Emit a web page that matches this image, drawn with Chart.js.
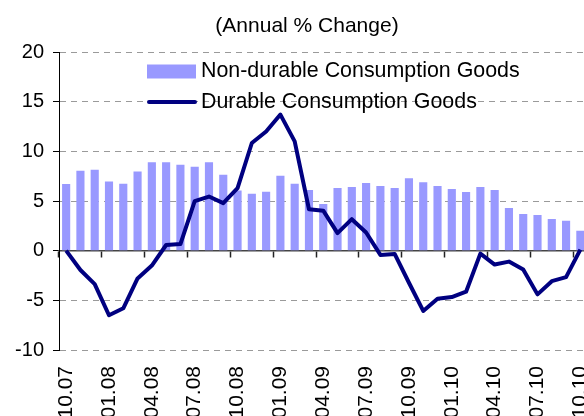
<!DOCTYPE html>
<html>
<head>
<meta charset="utf-8">
<script src="https://cdn.jsdelivr.net/npm/chart.js@4.4.0/dist/chart.umd.min.js"></script>
<style>
	html, body { margin: 0; padding: 0; background: #fff; overflow: hidden; }
	#wrap { width: 614px; height: 416px; }
</style>
</head>
<body>
<div id="wrap"><canvas id="chart" width="614" height="416"></canvas></div>
<script>
// monthly, 10.07 .. 10.10
const months = [
	"10.07", "11.07", "12.07", "01.08", "02.08", "03.08", "04.08", "05.08", "06.08",
	"07.08", "08.08", "09.08", "10.08", "11.08", "12.08", "01.09", "02.09", "03.09",
	"04.09", "05.09", "06.09", "07.09", "08.09", "09.09", "10.09", "11.09", "12.09",
	"01.10", "02.10", "03.10", "04.10", "05.10", "06.10", "07.10", "08.10", "09.10",
	"10.10",
];
const nonDurable = [
	6.7, 8.05, 8.15, 6.97, 6.73, 7.98, 8.89, 8.89, 8.65, 8.45, 8.89, 7.64, 6.06,
	5.72, 5.93, 7.54, 6.73, 6.1, 4.7, 6.3, 6.4, 6.8, 6.5, 6.3, 7.3, 6.9, 6.5, 6.2,
	5.9, 6.4, 6.1, 4.3, 3.7, 3.6, 3.2, 3.0, 2.0,
];
const durable = [
	0, -1.95, -3.37, -6.5, -5.8, -2.8, -1.5, 0.57, 0.67, 4.98, 5.45, 4.78, 6.3,
	10.84, 12.0, 13.7, 11.0, 4.17, 4.03, 1.77, 3.17, 1.83, -0.43, -0.33, -3.23,
	-6.07, -4.83, -4.67, -4.13, -0.3, -1.4, -1.1, -1.9, -4.4, -3.07, -2.67, 0.1,
];
const seriesNames = ["Non-durable Consumption Goods", "Durable Consumption Goods"];
const yMin = -10;
const yMax = 20;
const yStep = 5;
const labelEvery = 3;

Chart.defaults.font.family = "'Liberation Sans', Arial, sans-serif";
Chart.defaults.color = "#000";

// legend drawn inside the plot, top left
const insideLegend = {
	id: "insideLegend",
	afterDatasetsDraw(chart) {
		const { ctx, chartArea } = chart;
		const x = chartArea.left + 88;
		let y = chartArea.top + 19.5;
		ctx.save();
		ctx.font = "21.4px 'Liberation Sans', Arial, sans-serif";
		ctx.textBaseline = "middle";
		chart.data.datasets.forEach((ds) => {
			if (ds.type === "bar") {
				ctx.fillStyle = ds.backgroundColor;
				ctx.fillRect(x, y - 7, 49, 14);
			} else {
				ctx.strokeStyle = ds.borderColor;
				ctx.lineWidth = 4;
				ctx.lineCap = "round";
				ctx.beginPath();
				ctx.moveTo(x + 2, y);
				ctx.lineTo(x + 48, y);
				ctx.stroke();
			}
			ctx.fillStyle = "#000";
			ctx.fillText(ds.label, x + 54, y);
			y += 30.5;
		});
		ctx.restore();
	},
};

new Chart(document.getElementById("chart"), {
	data: {
		labels: months,
		datasets: [
			{
				type: "bar",
				label: seriesNames[0],
				data: nonDurable,
				backgroundColor: "#9999FF",
				borderWidth: 0,
				barPercentage: 0.57,
				categoryPercentage: 1,
				order: 2,
			},
			{
				type: "line",
				label: seriesNames[1],
				data: durable,
				borderColor: "#000080",
				borderWidth: 4,
				borderJoinStyle: "round",
				pointRadius: 0,
				tension: 0,
				fill: false,
				order: 1,
			},
		],
	},
	options: {
		responsive: false,
		animation: false,
		devicePixelRatio: 1,
		layout: { padding: 0 },
		plugins: {
			legend: { display: false },
			tooltip: { enabled: false },
			title: {
				display: true,
				text: "(Annual % Change)",
				color: "#000",
				font: { size: 21, weight: "normal" },
				padding: { top: 13.4, bottom: 13.4 },
			},
		},
		scales: {
			x: {
				offset: true,
				grid: { display: false, drawTicks: false, offset: true },
				border: { display: false },
				ticks: {
					autoSkip: false,
					minRotation: 90,
					maxRotation: 90,
					padding: 16,
					font: { size: 21 },
					callback: (v, i) => (i % labelEvery === 0 ? months[i] : ""),
				},
				afterFit(scale) {
					scale.height = 66;
					scale.paddingLeft = 0;
					// plot runs off the right edge of the picture
					scale.paddingRight = 26.5;
				},
			},
			x0: {
				type: "category",
				axis: "x",
				position: { y: 0 },
				offset: true,
				grid: {
					offset: true,
					drawOnChartArea: false,
					drawTicks: true,
					tickLength: 6,
					tickWidth: 1.5,
					tickColor: (ctx) => (ctx.index % labelEvery === 0 ? "#222" : "rgba(0,0,0,0)"),
				},
				border: { display: true, color: "#444", width: 1.5 },
				ticks: { display: false, autoSkip: false },
				afterFit(scale) {
					scale.paddingLeft = 0;
					scale.paddingRight = 0;
				},
			},
			y: {
				min: yMin,
				max: yMax,
				ticks: { stepSize: yStep, padding: 9, font: { size: 20 } },
				grid: {
					color: (ctx) => (ctx.tick.value === 0 ? "rgba(0,0,0,0)" : "#9a9a9a"),
					tickColor: "#000",
					tickLength: 6,
					tickBorderDash: [],
				},
				border: { display: true, color: "#000", width: 1, dash: [6, 5] },
				afterFit(scale) {
					scale.width = 59;
				},
			},
		},
	},
	plugins: [insideLegend],
});
</script>
</body>
</html>
